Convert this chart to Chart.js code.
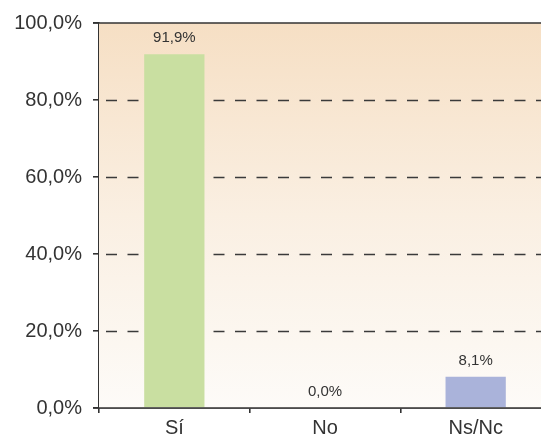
<!DOCTYPE html>
<html lang="es">
<head>
<meta charset="UTF-8">
<title>Sí / No / Ns-Nc</title>
<script src="https://cdn.jsdelivr.net/npm/chart.js@4.4.1/dist/chart.umd.min.js"></script>
<style>
  html, body { margin: 0; padding: 0; background: #fff; overflow: hidden; }
  #wrap { position: relative; width: 552px; height: 439px; }
</style>
</head>
<body>
<div id="wrap"><canvas id="chart"></canvas></div>
<script>
const categories = ['Sí', 'No', 'Ns/Nc'];
const values = [91.9, 0.0, 8.1];
const barColors = ['#c9dfa1', '#c9dfa1', '#aab3da'];
const yTicks = [0, 20, 40, 60, 80, 100];

const fmt = v => v.toFixed(1).replace('.', ',') + '%';
const ink = '#333333';

// background gradient + dashed gridlines behind the bars
const backdrop = {
    id: 'backdrop',
    beforeDatasetsDraw(chart) {
        const { ctx, chartArea, scales } = chart;
        const right = chart.width;
        const g = ctx.createLinearGradient(0, chartArea.top, 0, chartArea.bottom);
        g.addColorStop(0, 'rgb(246,223,196)');
        g.addColorStop(0.5, 'rgb(250,239,226)');
        g.addColorStop(1, 'rgb(253,251,248)');
        ctx.save();
        ctx.fillStyle = g;
        ctx.fillRect(chartArea.left, chartArea.top, right - chartArea.left, chartArea.bottom - chartArea.top);
        ctx.strokeStyle = '#3a3a3a';
        ctx.lineWidth = 1.3;
        ctx.setLineDash([11, 10.5]);
        ctx.lineDashOffset = 14.5;
        yTicks.forEach(t => {
            if (t === 0 || t === 100) return;
            const y = Math.round(scales.y.getPixelForValue(t)) + 0.5;
            ctx.beginPath();
            ctx.moveTo(chartArea.left, y);
            ctx.lineTo(right, y);
            ctx.stroke();
        });
        ctx.restore();
    },
    afterDatasetsDraw(chart) {
        const { ctx, chartArea, scales } = chart;
        const right = chart.width;
        ctx.save();
        ctx.strokeStyle = ink;
        ctx.lineWidth = 1.6;
        const yTop = scales.y.getPixelForValue(100);
        ctx.beginPath();
        ctx.moveTo(chartArea.left - 6, yTop);
        ctx.lineTo(right, yTop);
        ctx.stroke();
        const y0 = scales.y.getPixelForValue(0);
        ctx.beginPath();
        ctx.moveTo(chartArea.left - 6, y0);
        ctx.lineTo(right, y0);
        ctx.stroke();
        // value labels
        ctx.fillStyle = ink;
        ctx.font = '15px "Liberation Sans", Arial, sans-serif';
        ctx.textAlign = 'center';
        ctx.textBaseline = 'middle';
        chart.getDatasetMeta(0).data.forEach((bar, i) => {
            ctx.fillText(fmt(values[i]), bar.x, bar.y - 16);
        });
        ctx.restore();
    }
};

new Chart(document.getElementById('chart'), {
    type: 'bar',
    data: {
        labels: categories,
        datasets: [{
            data: values,
            backgroundColor: barColors,
            borderWidth: 0,
            barPercentage: 0.4,
            categoryPercentage: 1
        }]
    },
    options: {
        responsive: true,
        maintainAspectRatio: false,
        animation: false,
        layout: { padding: { top: 21, right: 1, left: 0, bottom: 0 } },
        plugins: { legend: { display: false }, tooltip: { enabled: false } },
        scales: {
            x: {
                offset: true,
                afterFit: s => { s.height = 31; },
                grid: { drawOnChartArea: false, tickLength: 5, color: ink, lineWidth: 1.6 },
                border: { display: true, color: ink, width: 1.6 },
                ticks: { color: ink, padding: 3, font: { family: '"Liberation Sans", Arial, sans-serif', size: 20 } }
            },
            y: {
                min: 0,
                max: 100,
                afterFit: s => { s.width = 99; },
                afterBuildTicks: s => { s.ticks = yTicks.map(v => ({ value: v })); },
                grid: { drawOnChartArea: false, tickLength: 6, color: ink, lineWidth: 1.6 },
                border: { display: true, color: ink, width: 1.6 },
                ticks: {
                    color: ink,
                    padding: 11,
                    font: { family: '"Liberation Sans", Arial, sans-serif', size: 20 },
                    callback: v => fmt(v)
                }
            }
        }
    },
    plugins: [backdrop]
});
</script>
</body>
</html>
